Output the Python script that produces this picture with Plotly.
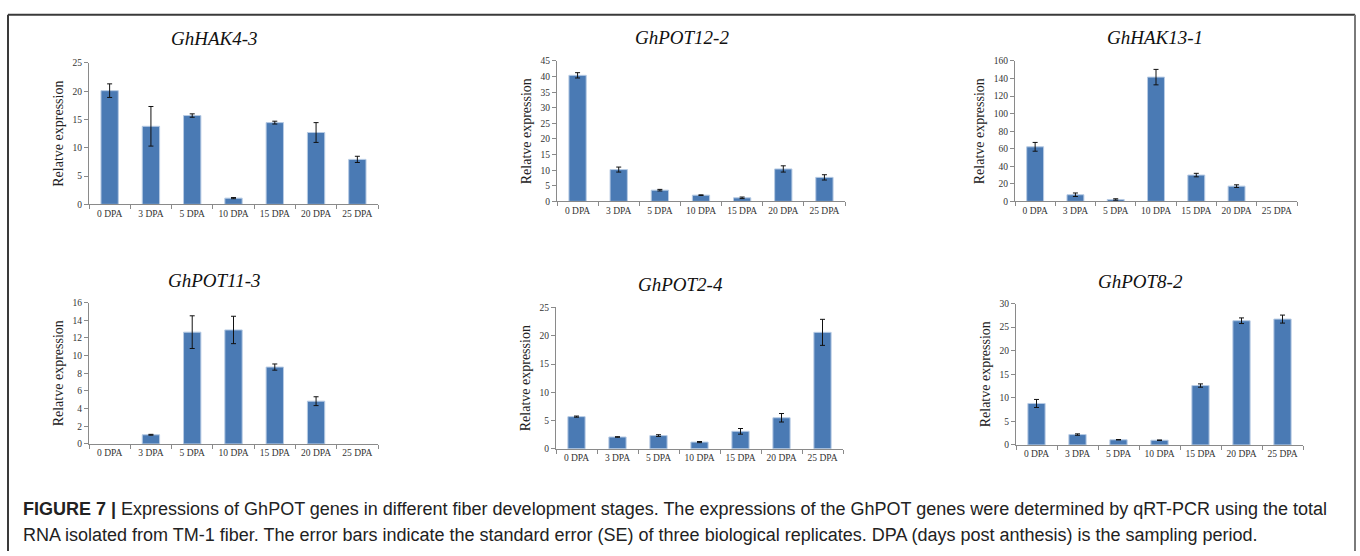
import plotly.graph_objects as go

# Sampling stages (days post anthesis)
stages = ["0 DPA", "3 DPA", "5 DPA", "10 DPA", "15 DPA", "20 DPA", "25 DPA"]

# Relative expression (mean) and standard error for each gene
hak4_3 = [20.1, 13.8, 15.7, 1.1, 14.45, 12.7, 7.95]
hak4_3_se = [1.2, 3.5, 0.3, 0.1, 0.25, 1.75, 0.55]

pot12_2 = [40.4, 10.2, 3.6, 2.0, 1.15, 10.4, 7.7]
pot12_2_se = [0.85, 0.8, 0.25, 0.1, 0.25, 1.0, 0.85]

hak13_1 = [62.2, 7.6, 2.2, 141.6, 30.0, 17.4, 0.0]
hak13_1_se = [5.0, 2.0, 0.8, 8.8, 2.0, 1.5, 0.0]

pot11_3 = [0.0, 1.04, 12.65, 12.9, 8.7, 4.84, 0.0]
pot11_3_se = [0.0, 0.05, 1.85, 1.55, 0.35, 0.5, 0.0]

pot2_4 = [5.7, 2.1, 2.35, 1.2, 3.1, 5.5, 20.6]
pot2_4_se = [0.1, 0.05, 0.15, 0.1, 0.5, 0.75, 2.3]

pot8_2 = [8.8, 2.2, 1.1, 1.0, 12.6, 26.35, 26.7]
pot8_2_se = [0.85, 0.15, 0.05, 0.05, 0.35, 0.6, 0.85]

gene_names = ["GhHAK4-3", "GhPOT12-2", "GhHAK13-1", "GhPOT11-3", "GhPOT2-4", "GhPOT8-2"]
values = [hak4_3, pot12_2, hak13_1, pot11_3, pot2_4, pot8_2]
errors = [hak4_3_se, pot12_2_se, hak13_1_se, pot11_3_se, pot2_4_se, pot8_2_se]
y_max = [25, 45, 160, 16, 25, 30]
y_step = [5, 5, 20, 2, 5, 5]

W, H = 1360, 556
# panel plot areas in pixels: (left, right, top, bottom)
boxes = [
    (89, 378, 59, 203),
    (557, 845, 57, 200),
    (1015, 1297, 57, 200),
    (89, 378, 303, 447),
    (556, 843, 308, 452),
    (1016, 1303, 304, 448),
]
title_pos = [(214, 34), (682, 33), (1155, 33), (214, 281), (680, 285), (1140, 282)]

serif = "Liberation Serif, Times New Roman, serif"
bar_fill = "#4a7ab4"
bar_edge = "#b7cbe4"
axis_col = "#8a8a8a"
text_col = "#333333"

fig = go.Figure()
layout = dict(
    width=W, height=H,
    margin=dict(l=0, r=0, t=0, b=0),
    paper_bgcolor="white", plot_bgcolor="white",
    showlegend=False, bargap=0.58,
)
annotations = []

for i in range(6):
    n = "" if i == 0 else str(i + 1)
    l, r, t, b = boxes[i]
    # stages with no detectable expression leave an empty slot on the axis
    keep = [k for k, v in enumerate(values[i]) if v > 0]
    fig.add_trace(go.Bar(
        x=[stages[k] for k in keep],
        y=[values[i][k] for k in keep],
        xaxis="x" + n, yaxis="y" + n,
        marker=dict(color=bar_fill, line=dict(color=bar_edge, width=1)),
        error_y=dict(type="data", array=[errors[i][k] for k in keep],
                     color="#111111", thickness=1, width=2.5),
    ))
    layout["xaxis" + n] = dict(
        domain=[l / W, r / W], anchor="y" + n,
        type="category", categoryorder="array", categoryarray=stages,
        range=[-0.5, len(stages) - 0.5], tickson="boundaries",
        ticks="outside", ticklen=4, tickcolor=axis_col, tickwidth=1,
        showline=True, linecolor=axis_col, linewidth=1,
        showgrid=False, zeroline=False,
        tickfont=dict(family=serif, size=9.5, color=text_col),
    )
    layout["yaxis" + n] = dict(
        domain=[1 - b / H, 1 - t / H], anchor="x" + n,
        range=[0, y_max[i]], dtick=y_step[i], tick0=0,
        ticks="outside", ticklen=4, tickcolor=axis_col, tickwidth=1,
        showline=True, linecolor=axis_col, linewidth=1,
        showgrid=False, zeroline=False,
        tickfont=dict(family=serif, size=9.5, color=text_col),
        title=dict(text="Relatve expression", standoff=5,
                   font=dict(family=serif, size=14, color="#222222")),
    )
    tx, ty = title_pos[i]
    annotations.append(dict(
        text="<i>" + gene_names[i] + "</i>",
        x=tx / W, y=1 - ty / H, xref="paper", yref="paper",
        xanchor="center", yanchor="middle", showarrow=False,
        font=dict(family=serif, size=19, color="#111111"),
    ))

# caption
cap_font = dict(family="Liberation Sans, Arial, sans-serif", size=18, color="#222222")
annotations.append(dict(
    text="<b>FIGURE 7 |</b> Expressions of GhPOT genes in different fiber development stages. "
         "The expressions of the GhPOT genes were determined by qRT-PCR using the total",
    x=21 / W, y=1 - 513 / H, xref="paper", yref="paper",
    xanchor="left", yanchor="middle", showarrow=False, font=cap_font,
))
annotations.append(dict(
    text="RNA isolated from TM-1 fiber. The error bars indicate the standard error (SE) of three "
         "biological replicates. DPA (days post anthesis) is the sampling period.",
    x=21 / W, y=1 - 540 / H, xref="paper", yref="paper",
    xanchor="left", yanchor="middle", showarrow=False, font=cap_font,
))
layout["annotations"] = annotations

# frame around the figure
frame = dict(color="#3a3a3a", width=2)
layout["shapes"] = [
    dict(type="line", xref="paper", yref="paper", x0=8 / W, x1=1355 / W,
         y0=1 - 10 / H, y1=1 - 10 / H, line=frame),
    dict(type="line", xref="paper", yref="paper", x0=8 / W, x1=8 / W,
         y0=1 - 10 / H, y1=0, line=frame),
    dict(type="line", xref="paper", yref="paper", x0=1355 / W, x1=1355 / W,
         y0=1 - 10 / H, y1=0, line=dict(color="#7a7a7a", width=2)),
]

fig.update_layout(**layout)
fig.write_html("out.html")
